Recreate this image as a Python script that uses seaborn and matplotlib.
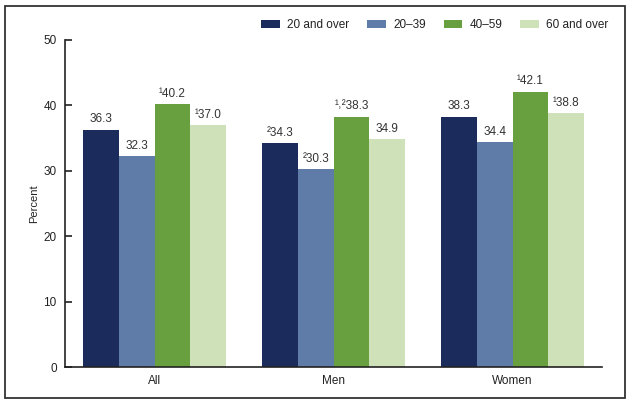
import matplotlib
matplotlib.use("Agg")
import matplotlib.pyplot as plt
import seaborn as sns
import pandas as pd
from matplotlib.patches import Rectangle

groups = ["All", "Men", "Women"]
series = ["20 and over", "20\u201339", "40\u201359", "60 and over"]
vals_20over = [36.3, 34.3, 38.3]
vals_20_39 = [32.3, 30.3, 34.4]
vals_40_59 = [40.2, 38.3, 42.1]
vals_60over = [37.0, 34.9, 38.8]
notes_20over = ["", "\u00b2", ""]
notes_20_39 = ["", "\u00b2", ""]
notes_40_59 = ["\u00b9", "\u00b9\u02d2\u00b2", "\u00b9"]
notes_60over = ["\u00b9", "", "\u00b9"]
colors = ["#1b2c5c", "#5f7ba7", "#68a03f", "#cfe1b9"]
y_ticks = [0, 10, 20, 30, 40, 50]

all_vals = [vals_20over, vals_20_39, vals_40_59, vals_60over]
all_notes = [notes_20over, notes_20_39, notes_40_59, notes_60over]
rows = []
for s, vs in zip(series, all_vals):
    for g, v in zip(groups, vs):
        rows.append({"group": g, "series": s, "value": v})
df = pd.DataFrame(rows)

sns.set_theme(style="white")
plt.rcParams["font.family"] = ["Liberation Sans", "DejaVu Sans"]

fig = plt.figure(figsize=(6.32, 4.05), dpi=100)
ax = fig.add_axes([65 / 632, 1 - 367 / 405, (602 - 65) / 632, (367 - 40) / 405])
sns.barplot(data=df, x="group", y="value", hue="series", order=groups,
            hue_order=series, palette=colors, width=0.8, gap=0,
            saturation=1, errorbar=None, ax=ax, linewidth=0)

for cont, notes in zip(ax.containers, all_notes):
    for bar, note in zip(cont, notes):
        h = bar.get_height()
        ax.annotate(f"{note}{h:.1f}", (bar.get_x() + bar.get_width() / 2, h),
                    xytext=(0, 3), textcoords="offset points",
                    ha="center", va="bottom", fontsize=8.5, color="#333333")

ax.set_ylim(0, 50)
ax.set_xlim(-0.5, 2.5)
ax.set_yticks(y_ticks)
ax.set_xlabel("")
ax.set_ylabel("Percent", fontsize=8, color="#222222", labelpad=3)
sns.despine(ax=ax, top=True, right=True)
for sp in ["left", "bottom"]:
    ax.spines[sp].set_color("#222222")
    ax.spines[sp].set_linewidth(1.2)
ax.tick_params(axis="y", direction="in", length=5, width=1.2, color="#222222",
               labelsize=8.5, labelcolor="#222222", pad=6, left=True)
ax.tick_params(axis="x", length=0, labelsize=8.5, labelcolor="#222222", pad=6)

handles, labels = ax.get_legend_handles_labels()
ax.legend_.remove()
fig.legend(handles, labels, loc="center right", bbox_to_anchor=(619 / 632, 1 - 25 / 405),
           ncol=4, frameon=False, fontsize=8.5, handlelength=1.6, handleheight=0.75,
           handletextpad=0.6, columnspacing=1.5, labelcolor="#222222")

fig.patches.append(Rectangle((5 / 632, 1 - 398 / 405), 620 / 632, 392 / 405,
                             transform=fig.transFigure, fill=False,
                             edgecolor="#333333", linewidth=1.3))

fig.savefig("out.png", dpi=100)
